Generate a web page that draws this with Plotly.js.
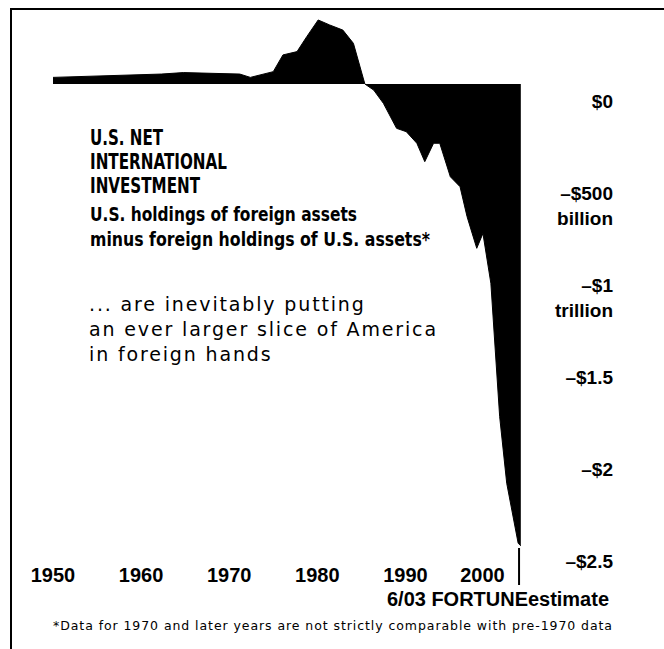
<!DOCTYPE html>
<html><head><meta charset="utf-8">
<script src="https://cdn.plot.ly/plotly-3.0.1.min.js"></script>
<style>html,body{margin:0;padding:0;background:#fff}</style>
</head><body><div id="chart" style="width:664px;height:649px"></div>
<script>
// Net international investment position (billions of dollars)
const years = [1950, 1955.7, 1962.3, 1964.8, 1971.2, 1972.4, 1975.0, 1976.1, 1977.7, 1978.8,
  1980.1, 1981.4, 1982.9, 1984.1, 1985.4, 1986.4, 1987.5, 1989.0, 1990.1, 1991.3,
  1992.2, 1993.2, 1993.9, 1995.1, 1996.2, 1997.0, 1998.1, 1998.8, 1999.4, 1999.7,
  2000.2, 2000.7, 2001.5, 2002.2, 2002.8, 2003.1];
const netPosition = [36, 43, 54, 62, 54, 36, 67, 158, 176, 257,
  348, 321, 293, 221, 0, -33, -105, -241, -259, -322,
  -422, -322, -322, -504, -558, -721, -893, -812, -993, -1083,
  -1446, -1808, -2170, -2352, -2496, -2510];
const valueTicks = [0, -500, -1000, -1500, -2000, -2500];
const valueTickLabels = ["$0", "\u2013$500", "\u2013$1", "\u2013$1.5", "\u2013$2", "\u2013$2.5"];
const valueTickUnits = ["", "billion", "trillion", "", "", ""];
const yearTicks = [1950, 1960, 1970, 1980, 1990, 2000];
const yearTickLabels = ["1950", "1960", "1970", "1980", "1990", "2000"];
const estimateYear = 2003.1;

const titleLines = ["U.S. NET", "INTERNATIONAL", "INVESTMENT"];
const subtitleLines = ["U.S. holdings of foreign assets", "minus foreign holdings of U.S. assets*"];
const bodyLines = ["... are inevitably putting", "an ever larger slice of America", "in foreign hands"];
const estimateNote = "6/03 FORTUNEestimate";
const footnote = "*Data for 1970 and later years are not strictly comparable with pre-1970 data";

// layout geometry (pixels)
const W = 664, H = 649, ML = 12, MR = 46, MT = 10, MB = 84;
const PW = W - ML - MR, PH = H - MT - MB;
const px = x => (x - ML) / PW;
const py = y => (H - MB - y) / PH;

const COND = "'DejaVu Sans Condensed', 'Liberation Sans Narrow', sans-serif";
const SANS = "'Liberation Sans', Arial, sans-serif";
const WIDE = "'DejaVu Sans', Verdana, sans-serif";

const ticktext = valueTickLabels.map((t, i) => t + "<br>" + (valueTickUnits[i] || "\u00a0"));
const yearText = yearTickLabels.map((t, i) => i === yearTickLabels.length - 1 ? t + "\u00a0\u00a0\u00a0\u00a0" : t);

// target text widths (px) for squeezing/spacing after render
const fitWidths = {};
const ann = [];
const titleW = [73, 137, 110];
titleLines.forEach((t, i) => { ann.push({text: t, x: px(88), y: py([137.5, 162.5, 186.5][i]),
  font: {family: COND, size: 21, weight: 700, color: "#000"}}); fitWidths[t] = [titleW[i], "spacingAndGlyphs"]; });
const subW = [267, 340];
subtitleLines.forEach((t, i) => { ann.push({text: t, x: px(88), y: py([214, 239][i]),
  font: {family: COND, size: 20, weight: 700, color: "#000"}}); fitWidths[t] = [subW[i], "spacingAndGlyphs"]; });
bodyLines.forEach((t, i) => ann.push({text: t, x: px(87), y: py([304, 329, 354][i]),
  font: {family: WIDE, size: 19, color: "#000"}}));
ann.push({text: estimateNote, x: px(385), y: py(599), font: {family: SANS, size: 19.5, weight: 700, color: "#000"}});
fitWidths[estimateNote] = [222, "spacingAndGlyphs"];
ann.push({text: footnote, x: px(51), y: py(625), font: {family: WIDE, size: 12.5, color: "#000"}});
fitWidths[footnote] = [559, "spacing"];
ann.forEach(a => { a.xref = "paper"; a.yref = "paper"; a.xanchor = "left"; a.yanchor = "middle"; a.align = "left"; a.showarrow = false; });

const trace = {
  x: years, y: netPosition, type: "scatter", mode: "lines",
  fill: "tozeroy", fillcolor: "#000", line: {color: "#000", width: 1, shape: "linear"},
  hoverinfo: "skip"
};

const layout = {
  width: W, height: H, margin: {l: ML, r: MR, t: MT, b: MB},
  paper_bgcolor: "#fff", plot_bgcolor: "rgba(0,0,0,0)", showlegend: false,
  xaxis: {
    domain: [px(46), px(524)], range: [1950 - 7 / 8.81, 1950 + 471 / 8.81],
    showgrid: false, zeroline: false, showline: false, ticks: "",
    tickmode: "array", tickvals: yearTicks, ticktext: yearText,
    tickfont: {family: SANS, size: 20, weight: 700, color: "#000"},
    ticklabelstandoff: -4
  },
  yaxis: {
    range: [(84 - 565) / 0.184, (84 - 10) / 0.184],
    anchor: "free", position: 1, side: "left",
    showgrid: false, zeroline: false, showline: false, ticks: "",
    tickmode: "array", tickvals: valueTicks, ticktext: ticktext,
    tickfont: {family: SANS, size: 19, weight: 700, color: "#000"},
    ticklabelshift: 30, ticklabelstandoff: 5
  },
  shapes: [
    {type: "line", xref: "paper", yref: "paper", x0: px(10), x1: px(664), y0: py(9), y1: py(9), line: {color: "#000", width: 2}},
    {type: "line", xref: "paper", yref: "paper", x0: px(11), x1: px(11), y0: py(8), y1: py(649), line: {color: "#000", width: 2}},
    {type: "line", xref: "x", yref: "paper", x0: estimateYear - 0.2, x1: estimateYear - 0.2, y0: py(548), y1: py(585), line: {color: "#000", width: 2}}
  ],
  annotations: ann
};

Plotly.newPlot("chart", [trace], layout, {displayModeBar: false, staticPlot: true}).then(() => {
  document.querySelectorAll("text.annotation-text").forEach(el => {
    const t = el.textContent;
    if (fitWidths[t]) {
      el.setAttribute("textLength", fitWidths[t][0]);
      el.setAttribute("lengthAdjust", fitWidths[t][1]);
    } else if (bodyLines.indexOf(t) >= 0) {
      el.style.letterSpacing = "1.85px";
    }
  });
});
</script></body></html>
